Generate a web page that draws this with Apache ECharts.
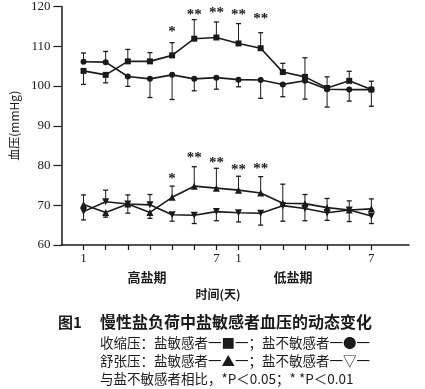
<!DOCTYPE html>
<html>
<head>
<meta charset="utf-8">
<script src="https://cdn.jsdelivr.net/npm/echarts@6/dist/echarts.min.js"></script>
<style>html,body{margin:0;padding:0;background:#fff;}#c{width:425px;height:389px;}</style>
</head>
<body>
<div id="c"></div>
<script>
// ---- data ----
const days = [1, 2, 3, 4, 5, 6, 7, 8, 9, 10, 11, 12, 13, 14];
const xTickLabels = ['1', '', '', '', '', '', '7', '1', '', '', '', '', '', '7'];
const yTicks = [60, 70, 80, 90, 100, 110, 120];

// systolic
const sysSensitive = [103.8, 102.8, 106.2, 106.2, 107.7, 111.9, 112.2, 110.7, 109.5, 103.5, 102.3, 99.5, 101.3, 99.1];
const sysSensitiveErrEnd = [100.4, 100.8, 109.2, 108.4, 110.9, 116.7, 116.1, 115.7, 113.4, 105.7, 107.1, 102.3, 103.7, 101.2];
const sysInsensitive = [106.1, 106.0, 102.4, 101.8, 102.8, 101.8, 102.1, 101.6, 101.5, 100.4, 101.3, 99.2, 99.1, 99.1];
const sysInsensitiveErrEnd = [108.3, 108.7, 99.9, 97.1, 96.6, 98.8, 99.2, 99.8, 96.9, 97.3, 96.7, 94.7, 96.2, 94.9];

// diastolic
const diaSensitive = [70.2, 68.2, 70.3, 68.2, 72.0, 74.8, 74.3, 73.8, 73.1, 70.5, 70.4, 69.4, 68.8, 69.1];
const diaSensitiveErrEnd = [72.6, 67.0, 72.6, 66.7, 74.8, 79.7, 79.3, 77.3, 77.2, 75.3, 72.7, 71.7, 71.1, 71.6];
const diaInsensitive = [68.4, 70.9, 70.3, 70.1, 67.6, 67.5, 68.4, 68.1, 68.0, 69.9, 69.2, 68.1, 68.8, 67.3];
const diaInsensitiveErrEnd = [66.3, 73.8, 68.0, 72.7, 66.0, 65.4, 66.1, 65.8, 65.0, 66.0, 66.1, 66.2, 65.9, 65.4];

// significance marks
const sigDays = [5, 6, 7, 8, 9];
const sigLabels = ['*', '**', '**', '**', '**'];
const sysSigLevel = [114.3, 118.5, 119.0, 118.5, 117.5];
const diaSigLevel = [77.4, 82.6, 81.4, 79.6, 79.8];

// texts
const yAxisName = '血压(mmHg)';
const xAxisName = '时间(天)';
const phaseHigh = '高盐期';
const phaseLow = '低盐期';
const figNo = '图1';
const figTitle = '慢性盐负荷中盐敏感者血压的动态变化';
const noteLines = [
  '收缩压：盐敏感者一■一；盐不敏感者一●一',
  '舒张压：盐敏感者一▲一；盐不敏感者一▽一',
  '与盐不敏感者相比，*P＜0.05；* *P＜0.01'
];

// ---- build ----
const INK = '#1a1a1a';
const SERIF = '"Liberation Serif", "DejaVu Serif", serif';
const CJK = '"Noto Sans CJK SC", sans-serif';

const pairs = (vals) => days.map((d, i) => [d, vals[i]]);
const errData = (vals, ends) => days.map((d, i) => [d, vals[i], ends[i]]);

function errRender(params, api) {
  const x = api.value(0), v = api.value(1), e = api.value(2);
  const p0 = api.coord([x, v]);
  const p1 = api.coord([x, e]);
  return {
    type: 'group',
    children: [
      { type: 'line', shape: { x1: p0[0], y1: p0[1], x2: p1[0], y2: p1[1] }, style: { stroke: INK, lineWidth: 1 } },
      { type: 'line', shape: { x1: p1[0] - 2.5, y1: p1[1], x2: p1[0] + 2.5, y2: p1[1] }, style: { stroke: INK, lineWidth: 1.3 } }
    ]
  };
}
const sigLabelsAll = sigLabels.concat(sigLabels);
const starData = sigDays.map((d, i) => [d, sysSigLevel[i]]).concat(sigDays.map((d, i) => [d, diaSigLevel[i]]));
function starRender(params, api) {
  const p = api.coord([api.value(0), api.value(1)]);
  const t = sigLabelsAll[params.dataIndex];
  return {
    type: 'text',
    x: p[0], y: p[1] + 3,
    style: { text: t, align: 'center', verticalAlign: 'middle', font: 'bold 15px ' + SERIF, fill: INK }
  };
}

function lineSeries(vals, symbol, size, rotate) {
  return {
    type: 'line', data: pairs(vals), symbol: symbol, symbolSize: size, symbolRotate: rotate || 0,
    showSymbol: true, lineStyle: { color: INK, width: 1.6 }, itemStyle: { color: INK, borderWidth: 0 },
    z: 3, animation: false
  };
}
function errSeries(vals, ends) {
  return { type: 'custom', renderItem: errRender, data: errData(vals, ends), z: 2, animation: false, clip: false };
}

const chart = echarts.init(document.getElementById('c'), null, { renderer: 'canvas' });
chart.setOption({
  backgroundColor: '#fff',
  animation: false,
  grid: { left: 60, right: 16, top: 6, bottom: 144 },
  xAxis: {
    type: 'value', min: 0, max: 15.7,
    splitLine: { show: false },
    axisLine: { lineStyle: { color: INK, width: 1.5 } },
    axisTick: { show: true, customValues: days, length: 5, lineStyle: { color: INK, width: 1.2 } },
    axisLabel: {
      customValues: days, color: INK, fontFamily: SERIF, fontSize: 13, margin: 7,
      formatter: (v) => xTickLabels[days.indexOf(Math.round(v))] || ''
    }
  },
  yAxis: {
    type: 'value', min: yTicks[0], max: yTicks[yTicks.length - 1], interval: 10,
    splitLine: { show: false },
    axisLine: { show: true, lineStyle: { color: INK, width: 1.5 } },
    axisTick: { show: true, length: 8, lineStyle: { color: INK, width: 1.2 } },
    axisLabel: { color: INK, fontFamily: SERIF, fontSize: 13, margin: 11 },
    name: yAxisName, nameLocation: 'middle', nameGap: 37, nameRotate: 90,
    nameTextStyle: { color: INK, fontFamily: CJK, fontSize: 12 }
  },
  graphic: [
    { type: 'text', x: 147, y: 277, style: { text: phaseHigh, font: 'bold 13px ' + CJK, fill: INK, align: 'center', verticalAlign: 'middle' } },
    { type: 'text', x: 293, y: 277, style: { text: phaseLow, font: 'bold 13px ' + CJK, fill: INK, align: 'center', verticalAlign: 'middle' } },
    { type: 'text', x: 218, y: 294, style: { text: xAxisName, font: 'bold 12px ' + CJK, fill: INK, align: 'center', verticalAlign: 'middle' } },
    { type: 'text', x: 58, y: 322, style: { text: figNo, font: 'bold 15px ' + CJK, fill: INK, align: 'left', verticalAlign: 'middle' } },
    { type: 'text', x: 100, y: 322, style: { text: figTitle, font: 'bold 16px ' + CJK, fill: INK, align: 'left', verticalAlign: 'middle' } },
    { type: 'text', x: 100, y: 343, style: { text: noteLines[0], font: '13.5px ' + CJK, fill: INK, align: 'left', verticalAlign: 'middle' } },
    { type: 'text', x: 100, y: 361, style: { text: noteLines[1], font: '13.5px ' + CJK, fill: INK, align: 'left', verticalAlign: 'middle' } },
    { type: 'text', x: 100, y: 379, style: { text: noteLines[2], font: '13.5px ' + CJK, fill: INK, align: 'left', verticalAlign: 'middle' } }
  ],
  series: [
    errSeries(sysSensitive, sysSensitiveErrEnd),
    errSeries(sysInsensitive, sysInsensitiveErrEnd),
    errSeries(diaSensitive, diaSensitiveErrEnd),
    errSeries(diaInsensitive, diaInsensitiveErrEnd),
    lineSeries(sysSensitive, 'rect', 6),
    lineSeries(sysInsensitive, 'circle', 6),
    lineSeries(diaSensitive, 'triangle', 7),
    lineSeries(diaInsensitive, 'triangle', 7, 180),
    { type: 'custom', renderItem: starRender, data: starData, z: 4, animation: false, clip: false }
  ]
});
</script>
</body>
</html>
